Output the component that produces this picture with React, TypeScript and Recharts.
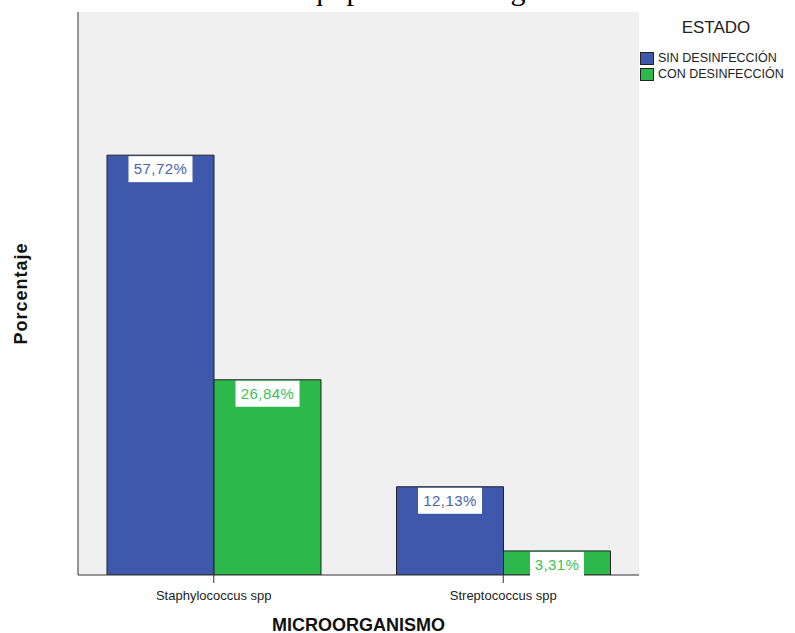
import { BarChart, Bar, XAxis, YAxis, CartesianGrid, Legend, LabelList } from 'recharts'

const categories = ['Staphylococcus spp', 'Streptococcus spp']
const sinDesinfeccion = [57.72, 12.13]
const conDesinfeccion = [26.84, 3.31]
const seriesNames = ['SIN DESINFECCIÓN', 'CON DESINFECCIÓN']
const seriesColors = ['#3e58ac', '#2db84b']
const labelColors = ['#4a62b4', '#3cbf5a']

const data = categories.map((name, i) => ({
    name,
    sin: sinDesinfeccion[i],
    con: conDesinfeccion[i],
}))

const sans = '"Liberation Sans", Arial, sans-serif'

function makeValueLabel(color: string) {
    return (props: any) => {
        const { x, y, width, value } = props
        const text = Number(value).toFixed(2).replace('.', ',') + '%'
        const w = text.length * 10 + 4
        const cx = x + width / 2
        return (
            <g>
                <rect x={cx - w / 2} y={y + 1} width={w} height={26} fill="#ffffff" />
                <text x={cx} y={y + 19} textAnchor="middle" fill={color} fontSize={15} fontFamily={sans} letterSpacing={0.4}>
                    {text}
                </text>
            </g>
        )
    }
}

function StateLegend() {
    return (
        <div style={{ fontFamily: sans, color: '#222' }}>
            <div style={{ width: 152, textAlign: 'center', fontSize: 17, lineHeight: '20px', marginBottom: 12 }}>ESTADO</div>
            {seriesNames.map((n, i) => (
                <div key={n} style={{ display: 'flex', alignItems: 'center', height: 16, fontSize: 12.5 }}>
                    <div style={{ width: 12, height: 11, background: seriesColors[i], border: '1px solid #222', marginRight: 4 }} />
                    <span>{n}</span>
                </div>
            ))}
        </div>
    )
}

export default function App() {
    return (
        <div style={{ position: 'absolute', left: 0, top: 0, width: 795, height: 633, overflow: 'hidden', background: '#fff' }}>
            {/* title sits above the window, only the descenders show */}
            <svg width={795} height={12} style={{ position: 'absolute', left: 0, top: 0 }}>
                <text x={-6} y={0} fontSize={30} fontFamily='"Liberation Serif", "Times New Roman", serif' fill="#000">
                    Recuento microbiano en equipo del área según estado
                </text>
            </svg>
            <BarChart
                width={795}
                height={633}
                data={data}
                margin={{ top: 12, right: 156, bottom: 0, left: 0 }}
                barGap={0}
                barSize={107}
            >
                <CartesianGrid fill="#f0f0f0" horizontal={false} vertical={false} />
                <XAxis
                    dataKey="name"
                    height={58}
                    padding={{ left: -9, right: -9 }}
                    axisLine={{ stroke: '#333' }}
                    tickLine={{ stroke: '#333' }}
                    tickSize={8}
                    tickMargin={8}
                    tick={{ fontSize: 13, fill: '#222', fontFamily: sans }}
                    label={{ value: 'MICROORGANISMO', position: 'insideBottom', offset: 2, fontSize: 18, fontWeight: 'bold', fill: '#111', fontFamily: sans }}
                />
                <XAxis xAxisId="top" dataKey="name" orientation="top" height={0} tick={false} tickLine={false} axisLine={{ stroke: '#333' }} />
                <YAxis
                    type="number"
                    domain={[0, 77.4]}
                    allowDataOverflow
                    width={78}
                    tick={false}
                    tickLine={false}
                    axisLine={{ stroke: '#333' }}
                    label={{ value: 'Porcentaje', angle: -90, position: 'center', dx: -18, fontSize: 18, letterSpacing: 1, fontWeight: 'bold', fill: '#111', fontFamily: sans }}
                />
                <YAxis yAxisId="right" orientation="right" width={0} tick={false} tickLine={false} axisLine={{ stroke: '#333' }} />
                <Legend
                    layout="vertical"
                    align="center"
                    verticalAlign="middle"
                    content={<StateLegend />}
                    wrapperStyle={{ top: 18, left: 640, width: 155 }}
                />
                <Bar dataKey="sin" name={seriesNames[0]} fill={seriesColors[0]} stroke="#222" strokeWidth={1} isAnimationActive={false}>
                    <LabelList dataKey="sin" content={makeValueLabel(labelColors[0])} />
                </Bar>
                <Bar dataKey="con" name={seriesNames[1]} fill={seriesColors[1]} stroke="#222" strokeWidth={1} isAnimationActive={false}>
                    <LabelList dataKey="con" content={makeValueLabel(labelColors[1])} />
                </Bar>
            </BarChart>
        </div>
    )
}
